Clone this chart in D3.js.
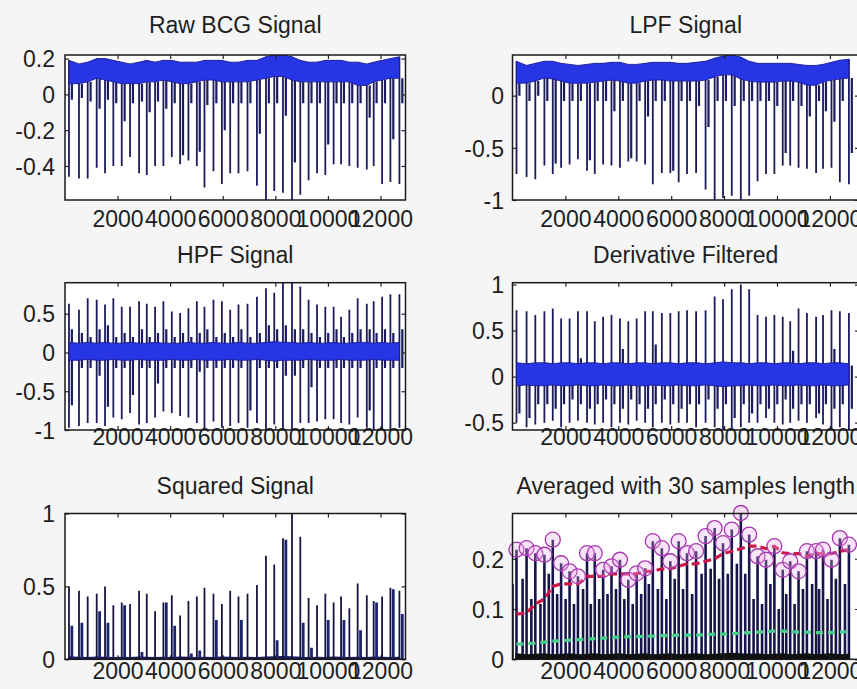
<!DOCTYPE html>
<html><head><meta charset="utf-8">
<script src="https://cdn.jsdelivr.net/npm/d3@7"></script>
<style>
html,body{margin:0;padding:0;background:#f5f5f5;}
svg{display:block;}
text{font-family:"Liberation Sans",Arial,Helvetica,sans-serif;fill:#1e1e1e;}
</style></head><body>
<svg id="fig" width="857" height="689"></svg>
<script>
// ---------------- data ----------------
const titles = ["Raw BCG Signal","LPF Signal","HPF Signal","Derivative Filtered","Squared Signal","Averaged with 30 samples length"];
const xTickValues = [2000,4000,6000,8000,10000,12000];
const beats = [152,533,864,1207,1523,1839,2159,2475,2818,3111,3427,3743,4063,4379,4695,5015,5305,5647,5967,6283,6599,6942,7300,7643,7959,8290,8633,8949,9265,9585,9901,10217,10499,10815,11131,11478,11740,12060,12376,12719];

const rawTicks = [-0.4,-0.2,0,0.2];
const rawSpike = [-0.46,-0.47,-0.47,-0.41,-0.44,-0.40,-0.40,-0.35,-0.44,-0.45,-0.40,-0.40,-0.35,-0.39,-0.37,-0.40,-0.52,-0.43,-0.50,-0.44,-0.44,-0.43,-0.51,-0.59,-0.54,-0.55,-0.59,-0.56,-0.48,-0.44,-0.45,-0.39,-0.39,-0.40,-0.41,-0.42,-0.40,-0.50,-0.49,-0.50];
const rawSecond = [-0.03,-0.02,-0.04,-0.08,-0.03,-0.05,-0.15,-0.05,-0.04,-0.10,-0.04,-0.08,-0.05,-0.34,-0.05,-0.32,-0.06,-0.05,-0.20,-0.05,-0.05,-0.05,-0.22,-0.05,-0.05,-0.12,-0.38,-0.05,-0.05,-0.05,-0.28,-0.05,-0.05,-0.05,-0.05,-0.13,-0.05,-0.05,-0.25,-0.05];
const rawTop = [0.19,0.17,0.18,0.20,0.20,0.19,0.18,0.17,0.18,0.19,0.18,0.19,0.19,0.18,0.18,0.18,0.19,0.19,0.19,0.18,0.18,0.19,0.19,0.21,0.22,0.22,0.21,0.19,0.18,0.18,0.19,0.19,0.19,0.18,0.18,0.17,0.18,0.19,0.20,0.21];
const rawBot = [0.06,0.06,0.07,0.09,0.08,0.07,0.06,0.06,0.06,0.07,0.07,0.08,0.07,0.06,0.06,0.07,0.08,0.08,0.07,0.07,0.07,0.07,0.08,0.09,0.10,0.10,0.08,0.07,0.07,0.07,0.07,0.07,0.07,0.07,0.05,0.05,0.07,0.08,0.09,0.09];

const lpfTicks = [-1,-0.5,0];
const lpfSpike = [-0.75,-0.78,-0.80,-0.67,-0.75,-0.69,-0.66,-0.61,-0.72,-0.75,-0.66,-0.67,-0.69,-0.63,-0.63,-0.66,-0.85,-0.74,-0.74,-0.83,-0.75,-0.74,-0.90,-1.0,-0.98,-0.96,-1.0,-0.96,-0.82,-0.75,-0.75,-0.67,-0.67,-0.69,-0.70,-0.74,-0.70,-0.69,-0.83,-0.85];
const lpfSecond = [0.0,-0.05,0.0,-0.05,-0.65,-0.05,-0.05,-0.05,-0.62,-0.05,-0.05,-0.15,-0.05,-0.60,-0.05,-0.20,-0.05,-0.05,-0.72,-0.05,-0.05,-0.10,-0.30,-0.05,-0.05,-0.10,-0.05,-0.05,-0.05,-0.05,-0.10,-0.55,-0.05,-0.10,-0.20,-0.05,-0.15,-0.25,-0.05,-0.55];
const lpfTop = [0.33,0.29,0.31,0.33,0.33,0.31,0.30,0.29,0.30,0.31,0.31,0.32,0.32,0.30,0.30,0.31,0.32,0.32,0.32,0.31,0.31,0.32,0.33,0.36,0.38,0.39,0.37,0.33,0.31,0.31,0.31,0.31,0.31,0.30,0.29,0.29,0.30,0.32,0.34,0.35];
const lpfBot = [0.12,0.12,0.14,0.17,0.16,0.14,0.12,0.12,0.12,0.13,0.14,0.15,0.14,0.12,0.12,0.14,0.15,0.15,0.14,0.14,0.14,0.14,0.15,0.18,0.20,0.20,0.16,0.14,0.13,0.13,0.13,0.14,0.14,0.13,0.10,0.10,0.13,0.15,0.16,0.17];

const hpfTicks = [-1,-0.5,0,0.5];
const hpfUp = [0.63,0.55,0.70,0.68,0.62,0.70,0.59,0.59,0.66,0.63,0.59,0.66,0.53,0.51,0.57,0.66,0.59,0.68,0.66,0.55,0.62,0.63,0.72,0.83,0.77,0.90,0.90,0.85,0.68,0.62,0.59,0.59,0.46,0.55,0.70,0.63,0.66,0.72,0.75,0.75];
const hpfDown = [-0.97,-0.95,-0.91,-0.91,-0.95,-0.84,-0.86,-0.78,-0.93,-0.91,-0.84,-0.76,-0.78,-0.82,-0.84,-0.91,-1.0,-0.89,-0.97,-0.95,-0.91,-0.97,-0.91,-0.99,-0.93,-1.0,-1.0,-0.91,-0.91,-0.89,-0.86,-0.86,-0.91,-0.93,-0.84,-0.97,-1.0,-1.0,-1.0,-0.97];
const hpfSecUp = [0.30,0.25,0.20,0.30,0.35,0.20,0.25,0.20,0.30,0.20,0.25,0.30,0.20,0.25,0.20,0.25,0.30,0.20,0.25,0.20,0.30,0.20,0.25,0.35,0.30,0.35,0.30,0.30,0.25,0.20,0.25,0.30,0.20,0.25,0.30,0.30,0.25,0.30,0.25,0.30];
const hpfSecDown = [-0.68,-0.20,-0.20,-0.30,-0.70,-0.20,-0.20,-0.55,-0.20,-0.20,-0.40,-0.20,-0.20,-0.20,-0.20,-0.25,-0.20,-0.20,-0.20,-0.20,-0.20,-0.75,-0.20,-0.20,-0.20,-0.30,-0.30,-0.20,-0.45,-0.20,-0.20,-0.20,-0.20,-0.20,-0.20,-0.75,-0.20,-0.20,-0.20,-0.20];
const hpfTop = [0.13,0.12,0.13,0.12,0.13,0.12,0.12,0.13,0.12,0.12,0.13,0.12,0.12,0.12,0.13,0.12,0.12,0.13,0.12,0.12,0.13,0.12,0.12,0.13,0.14,0.13,0.13,0.12,0.13,0.12,0.12,0.13,0.12,0.12,0.13,0.13,0.12,0.13,0.12,0.13];
const hpfBot = [-0.10,-0.10,-0.09,-0.10,-0.10,-0.09,-0.10,-0.10,-0.09,-0.10,-0.10,-0.10,-0.09,-0.10,-0.10,-0.09,-0.10,-0.10,-0.10,-0.09,-0.10,-0.10,-0.09,-0.10,-0.11,-0.10,-0.10,-0.10,-0.09,-0.10,-0.10,-0.10,-0.09,-0.10,-0.10,-0.10,-0.09,-0.10,-0.10,-0.10];

const derTicks = [-0.5,0,0.5,1];
const derUp = [0.72,0.71,0.67,0.71,0.74,0.63,0.63,0.71,0.71,0.60,0.65,0.67,0.63,0.60,0.63,0.71,0.71,0.69,0.69,0.71,0.72,0.71,0.72,0.87,0.84,0.95,1.0,0.95,0.67,0.65,0.67,0.65,0.60,0.74,0.69,0.65,0.67,0.72,0.71,0.69];
const derDown = [-0.50,-0.55,-0.52,-0.50,-0.48,-0.55,-0.50,-0.48,-0.50,-0.52,-0.50,-0.55,-0.50,-0.52,-0.48,-0.50,-0.55,-0.50,-0.52,-0.50,-0.50,-0.55,-0.50,-0.55,-0.58,-0.58,-0.55,-0.50,-0.50,-0.45,-0.50,-0.52,-0.50,-0.48,-0.50,-0.45,-0.52,-0.58,-0.55,-0.58];
const derSecUp = [0.10,0.12,0.10,0.15,0.10,0.12,0.10,0.20,0.10,0.12,0.10,0.10,0.30,0.10,0.12,0.10,0.35,0.10,0.12,0.10,0.10,0.15,0.10,0.12,0.10,0.10,0.15,0.10,0.10,0.12,0.10,0.10,0.28,0.10,0.12,0.10,0.10,0.30,0.10,0.12];
const derSecDown = [-0.40,-0.45,-0.30,-0.30,-0.35,-0.30,-0.25,-0.30,-0.35,-0.30,-0.25,-0.30,-0.35,-0.25,-0.30,-0.35,-0.30,-0.25,-0.30,-0.35,-0.30,-0.30,-0.25,-0.35,-0.30,-0.45,-0.30,-0.40,-0.30,-0.35,-0.30,-0.25,-0.35,-0.30,-0.30,-0.40,-0.30,-0.35,-0.30,-0.35];
const derTop = [0.15,0.14,0.15,0.15,0.14,0.15,0.15,0.14,0.15,0.15,0.14,0.15,0.15,0.14,0.15,0.15,0.14,0.15,0.15,0.14,0.15,0.15,0.14,0.15,0.16,0.15,0.15,0.14,0.15,0.15,0.14,0.15,0.15,0.14,0.15,0.15,0.14,0.15,0.15,0.14];
const derBot = [-0.10,-0.09,-0.10,-0.10,-0.09,-0.10,-0.10,-0.09,-0.10,-0.10,-0.09,-0.10,-0.10,-0.09,-0.10,-0.10,-0.09,-0.10,-0.10,-0.09,-0.10,-0.10,-0.09,-0.10,-0.11,-0.10,-0.10,-0.09,-0.10,-0.10,-0.09,-0.10,-0.10,-0.09,-0.10,-0.10,-0.09,-0.10,-0.10,-0.09];

const sqTicks = [0,0.5,1];
const sqMain = [0.50,0.47,0.43,0.45,0.50,0.37,0.39,0.38,0.47,0.45,0.33,0.39,0.44,0.30,0.40,0.43,0.49,0.45,0.38,0.47,0.43,0.45,0.51,0.71,0.65,0.83,1.0,0.84,0.42,0.37,0.45,0.39,0.43,0.35,0.52,0.44,0.40,0.43,0.49,0.47];
const sqSecond = [0.23,0.25,0,0.33,0.25,0,0.37,0,0.05,0,0,0.39,0.23,0,0.04,0.06,0,0.27,0,0,0.27,0,0,0,0.13,0.82,0,0.25,0.08,0,0.27,0,0.27,0,0.20,0,0.39,0,0.48,0.31];
const sqFloor = [0.015,0.012,0.010,0.014,0.012,0.010,0.012,0.010,0.014,0.012,0.010,0.012,0.010,0.014,0.012,0.010,0.012,0.010,0.014,0.012,0.010,0.012,0.010,0.014,0.016,0.018,0.016,0.012,0.010,0.012,0.010,0.014,0.012,0.010,0.012,0.010,0.014,0.012,0.010,0.012];

const avgTicks = [0,0.1,0.2];
const avgPeak = [0.218,0.221,0.211,0.208,0.238,0.191,0.175,0.165,0.211,0.211,0.178,0.185,0.198,0.158,0.171,0.181,0.235,0.221,0.195,0.235,0.211,0.215,0.245,0.261,0.231,0.258,0.291,0.248,0.205,0.198,0.225,0.178,0.195,0.175,0.215,0.215,0.218,0.198,0.241,0.228];
const avgSecond = [0.150,0.160,0.120,0.110,0.170,0.130,0.120,0.110,0.140,0.110,0.120,0.130,0.140,0.120,0.110,0.130,0.150,0.140,0.120,0.160,0.140,0.130,0.170,0.180,0.160,0.170,0.190,0.170,0.120,0.110,0.150,0.100,0.130,0.110,0.140,0.150,0.140,0.120,0.160,0.150];
const avgFloor = [0.010,0.008,0.009,0.010,0.008,0.009,0.010,0.008,0.009,0.010,0.008,0.009,0.010,0.008,0.009,0.010,0.008,0.009,0.010,0.008,0.009,0.010,0.008,0.009,0.010,0.011,0.010,0.009,0.010,0.008,0.009,0.010,0.008,0.009,0.010,0.008,0.009,0.010,0.008,0.009];
const redThr = [0.090,0.092,0.110,0.120,0.145,0.150,0.150,0.150,0.165,0.165,0.165,0.170,0.170,0.170,0.170,0.175,0.175,0.180,0.180,0.185,0.190,0.190,0.195,0.200,0.210,0.215,0.220,0.225,0.225,0.220,0.225,0.212,0.210,0.210,0.205,0.210,0.210,0.210,0.215,0.218];
const greenThr = [0.030,0.031,0.032,0.034,0.036,0.037,0.038,0.039,0.040,0.041,0.042,0.043,0.044,0.045,0.045,0.046,0.046,0.047,0.047,0.048,0.048,0.048,0.049,0.050,0.050,0.051,0.052,0.053,0.054,0.055,0.056,0.056,0.055,0.054,0.054,0.053,0.053,0.053,0.054,0.055];

// ---------------- layout ----------------
const svg = d3.select("#fig");
const COLS = {L:{x0:65,x1:405.5,max:12950,lab:55}, R:{x0:512.5,x1:859,max:13100,lab:504}};
const ROWS = [{y0:55,y1:200,title:33,lab:219},{y0:282.7,y1:430,title:263,lab:437},{y0:513.5,y1:659.3,title:494,lab:671}];
const NAVY = "#1b1b5e", BLUE = "#2636e4", EDGE = "#1c1c96";
const FS = 23;

function makePanel(id, col, row, yDom, yTicks, title) {
  const c = COLS[col], r = ROWS[row];
  const x = d3.scaleLinear().domain([1, c.max]).range([c.x0, c.x1]);
  const y = d3.scaleLinear().domain(yDom).range([r.y1, r.y0]);
  const g = svg.append("g");
  g.append("rect").attr("x", c.x0).attr("y", r.y0).attr("width", c.x1 - c.x0).attr("height", r.y1 - r.y0).attr("fill", "#fff");
  svg.append("clipPath").attr("id", "clip" + id).append("rect")
    .attr("x", c.x0).attr("y", r.y0).attr("width", c.x1 - c.x0).attr("height", r.y1 - r.y0);
  const data = g.append("g").attr("clip-path", `url(#clip${id})`);
  const over = g.append("g");
  const axes = g.append("g");
  svg.append("text").attr("x", (c.x0 + c.x1) / 2).attr("y", r.title).attr("text-anchor", "middle")
    .attr("font-size", FS).text(title);
  function finish() {
    const tk = 4;
    const ax = [
      axes.append("g").attr("transform", `translate(0,${r.y1})`).call(d3.axisBottom(x).tickValues(xTickValues).tickSize(-tk).tickSizeOuter(0).tickFormat(d => String(d))),
      axes.append("g").attr("transform", `translate(0,${r.y0})`).call(d3.axisTop(x).tickValues(xTickValues).tickSize(-tk).tickSizeOuter(0).tickFormat("")),
      axes.append("g").attr("transform", `translate(${c.x0},0)`).call(d3.axisLeft(y).tickValues(yTicks).tickSize(-tk).tickSizeOuter(0).tickFormat(d => String(d))),
      axes.append("g").attr("transform", `translate(${c.x1},0)`).call(d3.axisRight(y).tickValues(yTicks).tickSize(-tk).tickSizeOuter(0).tickFormat(""))
    ];
    ax.forEach(a => { a.select(".domain").remove(); a.selectAll("line").attr("stroke", "#222").attr("stroke-width", 1.2);
      a.selectAll("text").attr("font-size", FS).attr("font-family", null).attr("fill", "#1e1e1e"); });
    ax[0].selectAll("text").attr("y", r.lab - r.y1).attr("dy", "0.36em");
    ax[2].selectAll("text").attr("x", c.lab - c.x0).attr("dy", "0.36em");
    axes.append("rect").attr("x", c.x0).attr("y", r.y0).attr("width", c.x1 - c.x0).attr("height", r.y1 - r.y0)
      .attr("fill", "none").attr("stroke", "#1a1a1a").attr("stroke-width", 1.5);
  }
  return {x, y, data, over, finish};
}

function band(p, top, bot, fill) {
  const area = d3.area().x((d, i) => p.x(beats[i])).y0((d, i) => p.y(bot[i])).y1((d, i) => p.y(top[i]));
  const idx = beats.map((b, i) => i);
  p.data.append("path").datum(idx).attr("d", area).attr("fill", fill).attr("stroke", EDGE).attr("stroke-width", 0.9);
}
function vlines(p, lo, hi, offset, color, w) {
  p.data.append("g").selectAll("line").data(beats).join("line")
    .attr("x1", (b) => p.x(b + offset)).attr("x2", (b) => p.x(b + offset))
    .attr("y1", (b, i) => p.y(typeof lo === "number" ? lo : lo[i]))
    .attr("y2", (b, i) => p.y(typeof hi === "number" ? hi : hi[i]))
    .attr("stroke", color).attr("stroke-width", w);
}

// 1. Raw
{
  const p = makePanel(1, "L", 0, [-0.59, 0.22], rawTicks, titles[0]);
  vlines(p, rawSecond, rawBot, 110, NAVY, 2.2);
  vlines(p, rawSpike, rawTop, 0, NAVY, 1.8);
  band(p, rawTop, rawBot, BLUE);
  p.finish();
}
// 2. LPF
{
  const p = makePanel(2, "R", 0, [-1.0, 0.39], lpfTicks, titles[1]);
  vlines(p, lpfSecond, lpfBot, 110, NAVY, 2.2);
  vlines(p, lpfSpike, lpfTop, 0, NAVY, 1.8);
  band(p, lpfTop, lpfBot, BLUE);
  p.finish();
}
// 3. HPF
{
  const p = makePanel(3, "L", 1, [-1.0, 0.9], hpfTicks, titles[2]);
  vlines(p, hpfSecDown, hpfSecUp, 110, NAVY, 2.2);
  vlines(p, hpfDown, hpfUp, 0, NAVY, 1.8);
  band(p, hpfTop, hpfBot, BLUE);
  p.finish();
}
// 4. Derivative
{
  const p = makePanel(4, "R", 1, [-0.58, 1.02], derTicks, titles[3]);
  vlines(p, derSecDown, derSecUp, 110, NAVY, 2.2);
  vlines(p, derDown, derUp, 0, NAVY, 1.8);
  band(p, derTop, derBot, BLUE);
  p.finish();
}
// 5. Squared
{
  const p = makePanel(5, "L", 2, [0, 1], sqTicks, titles[4]);
  const idx = beats.map((b, i) => i);
  p.data.append("path").datum(idx)
    .attr("d", d3.area().x((d, i) => p.x(beats[i])).y0(p.y(0)).y1((d, i) => p.y(sqFloor[i])))
    .attr("fill", NAVY).attr("stroke", NAVY).attr("stroke-width", 1.5);
  p.data.append("g").selectAll("line").data(beats.filter((b, i) => sqSecond[i] > 0)).join("line")
    .attr("x1", b => p.x(b + 110)).attr("x2", b => p.x(b + 110))
    .attr("y1", p.y(0)).attr("y2", b => p.y(sqSecond[beats.indexOf(b)]))
    .attr("stroke", "#1c2470").attr("stroke-width", 2.8);
  vlines(p, 0, sqMain, 0, "#151540", 1.8);
  p.finish();
}
// 6. Averaged
{
  const p = makePanel(6, "R", 2, [0, 0.29], avgTicks, titles[5]);
  const idx = beats.map((b, i) => i);
  vlines(p, 0, avgSecond, -150, "#15154a", 2.6);
  vlines(p, 0, avgPeak, 0, "#15154a", 2.6);
  p.data.append("path").datum(idx)
    .attr("d", d3.area().x((d, i) => p.x(beats[i])).y0(p.y(0)).y1((d, i) => p.y(avgFloor[i])))
    .attr("fill", "#111").attr("stroke", "#111").attr("stroke-width", 2);
  const ln = (arr) => d3.line().x((d, i) => p.x(beats[i])).y((d, i) => p.y(arr[i]));
  p.data.append("path").datum(idx).attr("d", ln(greenThr)).attr("fill", "none")
    .attr("stroke", "#46d08a").attr("stroke-width", 3.2).attr("stroke-dasharray", "7,5");
  p.data.append("path").datum(idx).attr("d", ln(redThr)).attr("fill", "none")
    .attr("stroke", "#cc1848").attr("stroke-width", 3.2).attr("stroke-dasharray", "8,4");
  p.over.append("g").selectAll("circle").data(beats).join("circle")
    .attr("cx", b => p.x(b)).attr("cy", (b, i) => p.y(avgPeak[i])).attr("r", 7.5)
    .attr("fill", "rgba(235,170,235,0.3)").attr("stroke", "#a838b0").attr("stroke-width", 1.3);
  p.finish();
}
</script>
</body></html>
